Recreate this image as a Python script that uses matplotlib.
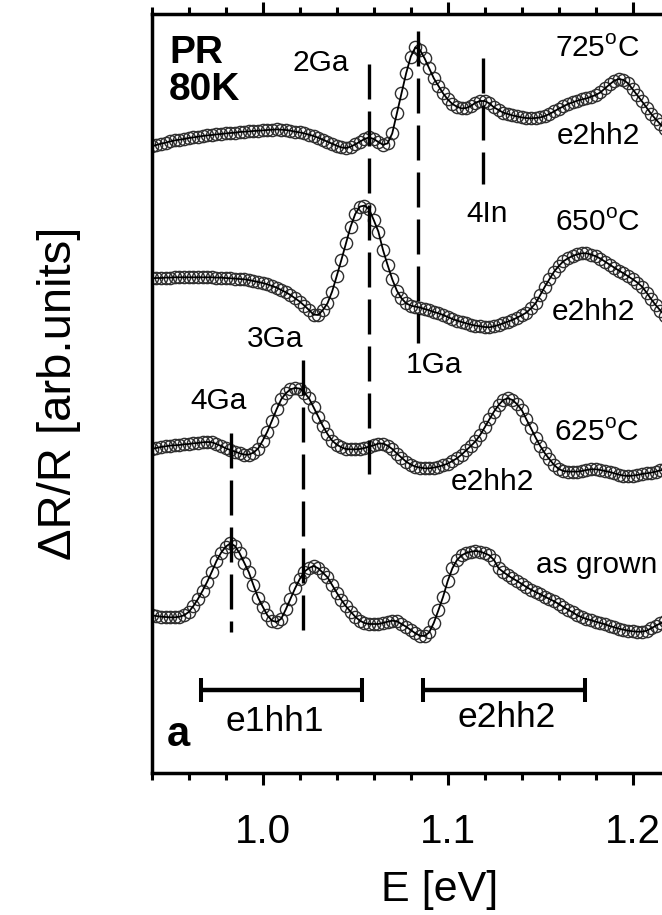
import numpy as np
import matplotlib
matplotlib.use("Agg")
import matplotlib.pyplot as plt
from matplotlib.ticker import MultipleLocator

plt.rcParams['font.family'] = ['Liberation Sans', 'DejaVu Sans']
plt.rcParams['mathtext.fontset'] = 'custom'
plt.rcParams['mathtext.rm'] = 'Liberation Sans'
plt.rcParams['mathtext.bf'] = 'Liberation Sans:bold'

# ---- photoreflectance spectra, 80 K (energy grid: start + step * index) ----
E_START = 0.94
E_STEP = 0.0025

pr_725 = [0.03, 0.17, 0.30, 0.40, 0.53, 0.63, 0.70, 0.77, 0.87, 0.93,
          1.00, 1.07, 1.13, 1.17, 1.23, 1.27, 1.33, 1.37, 1.40, 1.47,
          1.50, 1.53, 1.57, 1.60, 1.63, 1.67, 1.70, 1.73, 1.70, 1.67,
          1.60, 1.50, 1.43, 1.33, 1.20, 1.07, 0.90, 0.70, 0.50, 0.30,
          0.10, -0.07, -0.13, 0.00, 0.23, 0.50, 0.77, 0.93, 0.77, 0.47,
          0.20, 0.33, 1.33, 3.33, 5.33, 7.33, 9.00, 9.93, 9.67, 8.83,
          7.83, 6.83, 6.07, 5.33, 4.73, 4.27, 4.00, 3.83, 3.87, 4.07,
          4.40, 4.57, 4.57, 4.33, 3.93, 3.67, 3.40, 3.27, 3.13, 3.03,
          2.93, 2.87, 2.83, 2.87, 2.93, 3.07, 3.27, 3.53, 3.80, 4.03,
          4.27, 4.43, 4.60, 4.73, 4.83, 5.00, 5.17, 5.43, 5.83, 6.23,
          6.60, 6.77, 6.67, 6.33, 5.73, 5.13, 4.53, 3.90, 3.27, 2.73,
          2.23, 1.77, 1.33]

pr_650 = [0.00, 0.03, 0.03, 0.07, 0.07, 0.10, 0.10, 0.10, 0.10, 0.10,
          0.10, 0.10, 0.10, 0.10, 0.07, 0.07, 0.03, 0.00, -0.03, -0.07,
          -0.10, -0.17, -0.27, -0.37, -0.47, -0.60, -0.77, -0.93, -1.17, -1.40,
          -1.67, -2.00, -2.33, -2.73, -3.17, -3.63, -3.67, -3.17, -2.50, -1.33,
          0.23, 1.83, 3.50, 5.17, 6.43, 7.17, 7.27, 6.90, 5.83, 4.67,
          2.83, 1.33, -0.10, -1.23, -2.00, -2.50, -2.73, -2.83, -2.93, -3.07,
          -3.20, -3.37, -3.50, -3.67, -3.87, -4.07, -4.23, -4.37, -4.50, -4.63,
          -4.73, -4.80, -4.87, -4.90, -4.80, -4.67, -4.50, -4.33, -4.17, -3.93,
          -3.70, -3.43, -3.00, -2.50, -1.67, -0.83, -0.07, 0.67, 1.23, 1.70,
          2.00, 2.23, 2.40, 2.50, 2.50, 2.37, 2.20, 1.97, 1.67, 1.37,
          1.07, 0.77, 0.50, 0.20, -0.10, -0.43, -0.83, -1.43, -2.10, -2.70,
          -3.23, -3.77, -4.23]

pr_625 = [-0.07, 0.03, 0.13, 0.20, 0.27, 0.30, 0.33, 0.40, 0.43, 0.50,
          0.53, 0.60, 0.63, 0.60, 0.43, 0.23, 0.00, -0.17, -0.33, -0.50,
          -0.63, -0.63, -0.43, -0.03, 0.77, 1.67, 2.77, 3.90, 4.90, 5.50,
          5.90, 6.03, 5.97, 5.57, 5.00, 4.10, 3.17, 2.23, 1.43, 0.77,
          0.37, 0.10, -0.07, -0.10, -0.10, -0.07, 0.03, 0.17, 0.30, 0.47,
          0.47, 0.27, -0.07, -0.53, -0.93, -1.33, -1.63, -1.83, -1.93, -2.00,
          -2.00, -1.93, -1.83, -1.70, -1.53, -1.27, -1.00, -0.63, -0.20, 0.23,
          0.70, 1.33, 2.10, 2.90, 3.67, 4.33, 4.83, 5.00, 4.83, 4.40,
          3.83, 2.90, 2.00, 1.07, 0.23, -0.50, -1.10, -1.67, -2.07, -2.27,
          -2.33, -2.33, -2.33, -2.27, -2.17, -2.10, -2.10, -2.17, -2.27, -2.37,
          -2.50, -2.63, -2.73, -2.77, -2.73, -2.67, -2.57, -2.50, -2.43, -2.33,
          -2.20, -2.10, -2.03]

pr_as_grown = [-0.03, -0.10, -0.17, -0.20, -0.23, -0.23, -0.17, -0.03, 0.30, 0.90,
               1.60, 2.43, 3.33, 4.33, 5.40, 6.23, 6.83, 7.17, 6.90, 6.17,
               5.23, 4.27, 2.97, 1.73, 0.83, -0.03, -0.57, -0.70, -0.37, 0.57,
               1.63, 2.67, 3.60, 4.33, 4.70, 4.90, 4.67, 4.23, 3.77, 3.00,
               2.23, 1.50, 0.87, 0.33, -0.17, -0.57, -0.80, -0.90, -0.90, -0.90,
               -0.80, -0.67, -0.57, -0.63, -0.90, -1.17, -1.50, -1.83, -2.07, -2.10,
               -1.73, -0.77, 0.50, 1.83, 3.40, 4.67, 5.50, 5.97, 6.20, 6.33,
               6.40, 6.33, 6.17, 5.97, 5.50, 4.67, 4.30, 3.97, 3.67, 3.40,
               3.10, 2.80, 2.53, 2.30, 2.07, 1.83, 1.60, 1.37, 1.10, 0.80,
               0.53, 0.27, -0.03, -0.23, -0.40, -0.53, -0.67, -0.80, -0.93, -1.10,
               -1.23, -1.37, -1.47, -1.57, -1.63, -1.67, -1.67, -1.57, -1.33, -1.07,
               -0.83, -0.57, -0.30]

spectra = [pr_725, pr_650, pr_625, pr_as_grown]
spectrum_offsets = [62.63, 49.47, 32.47, 15.80]

sample_labels = ['725$^{\\mathregular{o}}$C', '650$^{\\mathregular{o}}$C',
                 '625$^{\\mathregular{o}}$C', 'as grown']
sample_label_pos = [(1.1807, 71.63), (1.1812, 54.23), (1.1805, 33.23), (1.1805, 20.0)]

e2hh2_label_pos = [(1.1812, 62.9), (1.179, 45.3), (1.1242, 28.3)]

# optical transitions marked by dashed lines
trans_labels = ['1Ga', '2Ga', '3Ga', '4Ga', '4In']
trans_energy = [1.084, 1.0575, 1.022, 0.983, 1.119]
trans_span = [(43.0, 74.2), (29.9, 70.9), (14.3, 41.3), (14.1, 34.0), (58.9, 71.5)]
trans_label_pos = [(1.0926, 39.97), (1.0315, 70.23), (1.0065, 42.63),
                   (0.9763, 36.37), (1.1212, 55.13)]

# energy ranges of the e1hh1 and e2hh2 transitions
range_labels = ['e1hh1', 'e2hh2']
range_limits = [(0.9666, 1.0538), (1.0868, 1.1742)]
range_level = 8.3
range_label_pos = [(1.0067, 4.23), (1.1319, 4.57)]

# ---------------------------------------------------------------------------
fig = plt.figure(figsize=(6.62, 9.15), dpi=100)
ax = fig.add_axes([0.2292, 0.1552, 0.8384, 0.8295])
ax.set_xlim(0.94, 1.24)
ax.set_ylim(0, 75.9)

for values, off in zip(spectra, spectrum_offsets):
    e = E_START + E_STEP * np.arange(len(values))
    y = np.asarray(values) + off
    ax.plot(e, y, 'o', mfc='none', mec='#2e2e2e', ms=8.8, mew=1.0, zorder=2)
    ax.plot(e, y, '-', color='black', lw=1.3, zorder=3)

LABEL_SIZE = 21.5
for lbl, (x, y) in zip(sample_labels, sample_label_pos):
    ax.text(x, y, lbl, ha='center', va='baseline', fontsize=LABEL_SIZE)
for (x, y) in e2hh2_label_pos:
    ax.text(x, y, 'e2hh2', ha='center', va='baseline', fontsize=LABEL_SIZE)

for lbl, en, (y0, y1), (tx, ty) in zip(trans_labels, trans_energy, trans_span, trans_label_pos):
    ln, = ax.plot([en, en], [y1, y0], color='black', lw=2.4, zorder=4)
    ln.set_dashes([10.5, 3.6])
    ax.text(tx, ty, lbl, ha='center', va='baseline', fontsize=LABEL_SIZE)

for lbl, (x0, x1), (tx, ty) in zip(range_labels, range_limits, range_label_pos):
    ax.errorbar([(x0 + x1) / 2], [range_level], xerr=[(x1 - x0) / 2], fmt='none',
                ecolor='black', elinewidth=3.2, capsize=8.3, capthick=2.9)
    ax.text(tx, ty, lbl, ha='center', va='baseline', fontsize=25.5)

ax.text(0.9494, 73.8, 'PR\n80K', ha='left', va='top', fontsize=28,
        fontweight='bold', linespacing=1.02)
ax.text(0.9481, 2.7, 'a', ha='left', va='baseline', fontsize=30, fontweight='bold')

# axes styling
for sp in ax.spines.values():
    sp.set_linewidth(2.5)
ax.set_xticks([1.0, 1.1, 1.2])
ax.set_xticklabels(['1.0', '1.1', '1.2'])
ax.xaxis.set_minor_locator(MultipleLocator(0.02))
ax.tick_params(axis='x', which='both', direction='out', top=True, bottom=True,
               width=2.2, labelsize=29, pad=20)
ax.tick_params(axis='x', which='major', length=8.6)
ax.tick_params(axis='x', which='minor', length=5.0)
ax.tick_params(axis='y', which='both', left=False, right=False, labelleft=False)

ax.set_xlabel('E [eV]', fontsize=31)
ax.xaxis.set_label_coords(0.519, -0.128)
ax.set_ylabel('\u0394R/R [arb.units]', fontsize=34)
ax.yaxis.set_label_coords(-0.127, 0.5)

fig.savefig('out.png', dpi=100)
